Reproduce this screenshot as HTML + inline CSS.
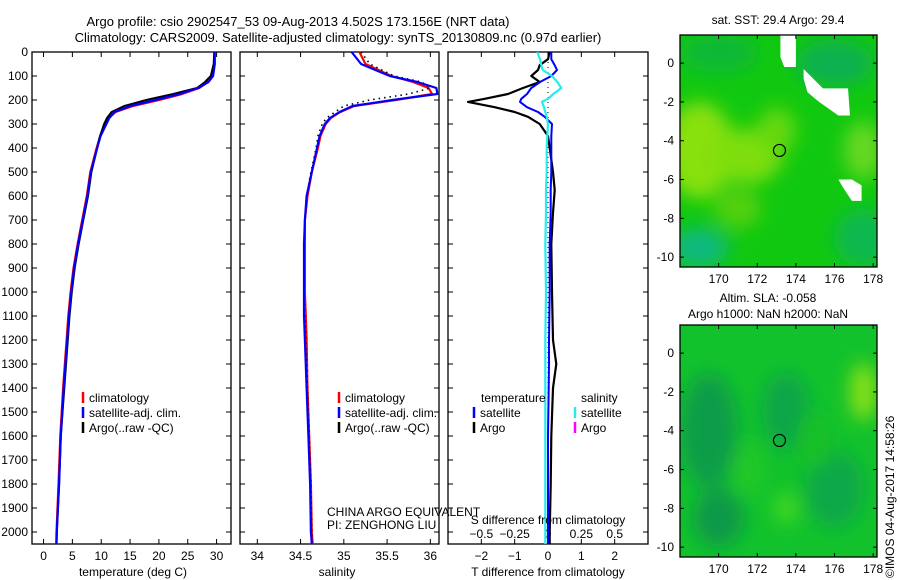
<!DOCTYPE html>
<html><head><meta charset="utf-8"><style>
body{margin:0;background:#fff;}
svg{display:block;font-family:"Liberation Sans",sans-serif;}
</style></head><body>
<svg id="c" width="900" height="580" viewBox="0 0 900 580">
<defs>
<filter id="bl" x="-50%" y="-50%" width="200%" height="200%"><feGaussianBlur stdDeviation="9"/></filter>
<clipPath id="m1c"><rect x="680" y="35" width="197" height="232"/></clipPath>
<clipPath id="m2c"><rect x="680" y="325" width="197" height="232"/></clipPath>
</defs>
<text x="298" y="26" font-size="13" text-anchor="middle">Argo profile: csio 2902547_53 09-Aug-2013 4.502S 173.156E (NRT data)</text>
<text x="338" y="42" font-size="13" text-anchor="middle">Climatology: CARS2009. Satellite-adjusted climatology: synTS_20130809.nc (0.97d earlier)</text>
<g id="maps"></g>
<g id="plots"></g>
<text transform="translate(894,578) rotate(-90)" font-size="12">©IMOS 04-Aug-2017 14:58:26</text>
</svg>
<script>
// ---- data ----
const depths = [0,50,100,125,150,175,200,225,250,275,300,350,400,500,600,700,800,900,1000,1100,1200,1400,1600,1800,2000,2050];
const tempClim = [29.6,29.6,29.3,28.5,27,24,20,15.5,12.5,11.3,10.7,9.8,9.2,8.1,7.5,6.7,5.9,5.2,4.7,4.3,4.0,3.4,2.9,2.6,2.25,2.2];
const tempSat  = [29.7,29.7,29.4,28.6,26.8,23.6,19.4,15.0,12.3,11.4,10.9,9.9,9.3,8.2,7.6,6.8,6.0,5.3,4.8,4.4,4.1,3.5,3.0,2.7,2.3,2.25];
const tempArgo = [29.6,29.5,29.0,28.0,26.6,22.5,17.8,14.0,11.8,11.0,10.5,9.8,9.3,8.3,7.7,6.9,6.1,5.4,4.9,4.5,4.2,3.6,3.0,2.7,2.3,2.25];
const salClim  = [35.18,35.25,35.55,35.8,35.98,36.02,35.6,35.12,34.96,34.85,34.79,34.73,34.70,34.63,34.58,34.55,34.55,34.55,34.55,34.56,34.57,34.58,34.60,34.62,34.63,34.64];
const salSat   = [35.09,35.2,35.53,35.85,36.07,36.08,35.56,35.1,34.95,34.84,34.78,34.72,34.69,34.63,34.57,34.55,34.54,34.54,34.54,34.54,34.55,34.57,34.59,34.61,34.62,34.63];
const salArgo  = [35.2,35.3,35.58,35.9,36.0,35.75,35.3,35.0,34.9,34.8,34.75,34.7,34.68,34.62,34.57,34.55,34.54,34.54,34.54,34.55,34.56,34.58,34.60,34.62,34.63,34.63];
const diffDepths = [0,30,55,75,100,125,150,175,195,208,230,250,270,300,350,400,500,575,670,800,1000,1200,1300,1400,1600,1800,2000,2050];
const tDiffArgo = [0.05,0.0,-0.25,-0.3,-0.5,-0.25,-0.75,-1.2,-1.9,-2.4,-1.6,-1.0,-0.6,-0.25,0.0,0.05,0.15,0.2,0.15,0.1,0.12,0.15,0.25,0.15,0.1,0.08,0.05,0.05];
const tDiffSat  = [0.1,0.1,0.2,0.27,0.1,-0.24,-0.5,-0.63,-0.8,-0.84,-0.63,-0.3,-0.1,0.12,0.1,0.1,0.1,0.08,0.08,0.05,0.05,0.03,0.03,0.02,0.0,0.0,0.0,0.0];
const sDiffSat  = [-0.08,-0.06,-0.05,-0.04,0.03,0.07,0.1,0.04,0.0,-0.045,-0.03,-0.02,-0.01,0.0,-0.005,-0.01,-0.01,-0.015,-0.015,-0.02,-0.015,-0.02,-0.02,-0.02,-0.02,-0.02,-0.02,-0.02];
const depthTicks = [0,100,200,300,400,500,600,700,800,900,1000,1100,1200,1300,1400,1500,1600,1700,1800,1900,2000];
const tempTicks = [0,5,10,15,20,25,30];
const salTicks = [34,34.5,35,35.5,36];
const tDiffTicks = [-2,-1,0,1,2];
const sDiffTicks = [-0.5,-0.25,0,0.25,0.5];
const lonTicks = [170,172,174,176,178];
const latTicks = [0,-2,-4,-6,-8,-10];
const argoPos = [173.15,-4.5];

const NS='http://www.w3.org/2000/svg';
const plots=document.getElementById('plots'), maps=document.getElementById('maps');
function mk(tag,attrs,parent){const e=document.createElementNS(NS,tag);for(const k in attrs)e.setAttribute(k,attrs[k]);(parent||plots).appendChild(e);return e;}
const Y0=52,Y1=544;
const yD=d=>Y0+(d/2050)*(Y1-Y0);
function lin(d0,d1,r0,r1){return v=>r0+(v-d0)/(d1-d0)*(r1-r0);}
const xT=lin(-2,32.5,32,231), xS=lin(33.8,36.1,240,439), xTD=lin(-3,3,448,648), xSD=lin(-0.75,0.75,448,648);

function axesBox(x0,x1,name){
  const r=mk('rect',{x:x0,y:Y0,width:x1-x0,height:Y1-Y0,fill:'none',stroke:'#000','stroke-width':1.3});
  
  
}
function yTicks(x0,x1,labels){
  depthTicks.forEach(d=>{const y=yD(d);
    mk('line',{x1:x0,y1:y,x2:x0+5,y2:y,stroke:'#000'});
    mk('line',{x1:x1,y1:y,x2:x1-5,y2:y,stroke:'#000'});
    if(labels){const t=mk('text',{x:x0-4,y:y+4,'font-size':12,'text-anchor':'end'});t.textContent=d;
      
      }
  });
}
function xTicks(ticks,sc,yLab,top){
  ticks.forEach(v=>{const x=sc(v);
    mk('line',{x1:x,y1:Y1,x2:x,y2:Y1-5,stroke:'#000'});
    if(top)mk('line',{x1:x,y1:Y0,x2:x,y2:Y0+5,stroke:'#000'});
    const t=mk('text',{x:x,y:yLab,'font-size':12,'text-anchor':'middle'});t.textContent=(v<0?'\u2212'+(-v):v);
    
    
  });
}
function line(xs,ds,sc,color,w,name,dash){
  const p=xs.map((v,i)=>(i?'L':'M')+sc(v).toFixed(1)+','+yD(ds[i]).toFixed(1)).join('');
  const e=mk('path',{d:p,fill:'none',stroke:color,'stroke-width':w,'stroke-linejoin':'round'});
  if(dash)e.setAttribute('stroke-dasharray',dash);
  
  
}
function label(x,y,txt,name,anchor){const t=mk('text',{x:x,y:y,'font-size':12,'text-anchor':anchor||'middle'});t.textContent=txt;
  
  return t;}
function legend(x,y,items){items.forEach((it,i)=>{const yy=y+i*15;
  mk('line',{x1:x,y1:yy-10,x2:x,y2:yy+1,stroke:it[1],'stroke-width':2.5});
  label(x+6,yy,it[0],'legend-entry','start');});}

// panel 1 temperature
axesBox(32,231,'temperature-axes');yTicks(32,231,true);xTicks(tempTicks,xT,560,true);
line(tempClim,depths,xT,'#f00',2.2,'temperature-climatology-line');
line(tempArgo,depths,xT,'#000',2,'temperature-argo-line');
line(tempSat,depths,xT,'#00f',2.2,'temperature-satellite-line');
label(133,576,'temperature (deg C)','temperature-axis-title');
legend(83,402,[['climatology','#f00'],['satellite-adj. clim.','#00f'],['Argo(..raw -QC)','#000']]);

// panel 2 salinity
axesBox(240,439,'salinity-axes');yTicks(240,439,false);xTicks(salTicks,xS,560,true);
line(salClim,depths,xS,'#f00',2.2,'salinity-climatology-line');
line(salArgo,depths,xS,'#000',1.6,'salinity-argo-line','1.5,4');
line(salSat,depths,xS,'#00f',2.2,'salinity-satellite-line');
label(337,576,'salinity','salinity-axis-title');
legend(339,402,[['climatology','#f00'],['satellite-adj. clim.','#00f'],['Argo(..raw -QC)','#000']]);
label(327,516,'CHINA ARGO EQUIVALENT','float-owner','start');
label(327,529,'PI: ZENGHONG LIU','float-pi','start');

// panel 3 differences
axesBox(448,648,'difference-axes');yTicks(448,648,false);
xTicks(tDiffTicks,xTD,560,true);
sDiffTicks.forEach(v=>{const t=mk('text',{x:xSD(v),y:538,'font-size':12,'text-anchor':'middle'});t.textContent=(v<0?'\u2212'+(-v):v);
  
  });
mk('line',{x1:xTD(0),y1:Y0,x2:xTD(0),y2:Y1,stroke:'#000','stroke-dasharray':'1,4'});
line(tDiffArgo,diffDepths,xTD,'#000',2.2,'t-diff-argo-line');
line(tDiffSat,diffDepths,xTD,'#00f',2,'t-diff-satellite-line');
line(sDiffSat,diffDepths,xSD,'#2ee',2.2,'s-diff-satellite-line');
label(548,576,'T difference from climatology','t-diff-axis-title');
label(548,524,'S difference from climatology','s-diff-axis-title');
label(481,402,'temperature','legend-heading-temperature','start');
label(581,402,'salinity','legend-heading-salinity','start');
legend(474,417,[['satellite','#00f'],['Argo','#000']]);
legend(575,417,[['satellite','#2ee'],['Argo','#f0f']]);

// maps
const xL=lin(168,178.2,680,877);
function mapAxes(y0,y1,latTop,title,name,blobs,colorBase,gaps){
  const yL=lin(latTop,latTop-(y1-y0)/19.4,y0,y1);
  const g=mk('g',{'clip-path':'url(#'+(name==='sst-map'?'m1c':'m2c')+')'},maps);
  
  
  mk('rect',{x:680,y:y0,width:197,height:y1-y0,fill:colorBase},g);
  const bg=mk('g',{filter:'url(#bl)'},g);
  blobs.forEach(b=>mk('ellipse',{cx:xL(b[0]),cy:yL(b[1]),rx:b[2]*19.4,ry:b[3]*19.4,fill:b[4]},bg));
  gaps.forEach(pg=>mk('polygon',{points:pg.map(p=>xL(p[0])+','+yL(p[1])).join(' '),fill:'#fff'},g));
  mk('circle',{cx:xL(argoPos[0]),cy:yL(argoPos[1]),r:6,fill:'none',stroke:'#000','stroke-width':1.2},maps);
  mk('rect',{x:680,y:y0,width:197,height:y1-y0,fill:'none',stroke:'#000','stroke-width':1.3},maps);
  lonTicks.forEach(v=>{const x=xL(v);mk('line',{x1:x,y1:y1,x2:x,y2:y1-4,stroke:'#000'},maps);mk('line',{x1:x,y1:y0,x2:x,y2:y0+4,stroke:'#000'},maps);
    const t=mk('text',{x:x,y:y1+16,'font-size':12,'text-anchor':'middle'},maps);t.textContent=v;
    
    });
  latTicks.forEach(v=>{const y=yL(v);mk('line',{x1:680,y1:y,x2:684,y2:y,stroke:'#000'},maps);mk('line',{x1:877,y1:y,x2:873,y2:y,stroke:'#000'},maps);
    const t=mk('text',{x:674,y:y+4,'font-size':12,'text-anchor':'end'},maps);t.textContent=(v<0?'-'+(-v):v);
    
    });
}
mapAxes(35,267,1.45,'','sst-map',[
 [169,-4.5,1.8,2.5,'#88e010'],[171.5,-4.8,1.8,1.4,'#7ede10'],[173,-3.5,1,1.2,'#66d810'],[169,-9.5,1.5,1,'#10b880'],
 [177.5,-4.5,1,1.5,'#66d820'],[176,0,2,1.2,'#10b050'],[170,0.5,2,1,'#10b838'],[177.5,-9,1.5,1.5,'#10b850'],[171,-7.5,1.2,1,'#55d010']
],'#11c810',[
 [[173.2,1.45],[174,1.45],[174,-0.2],[173.4,-0.2],[173.2,0.3]],
 [[174.4,-0.3],[175.4,-1.3],[176.7,-1.3],[176.8,-2.7],[176.2,-2.7],[175.2,-2],[174.6,-1.5],[174.4,-0.8]],
 [[176.2,-6],[176.9,-6],[177.4,-6.3],[177.4,-7.1],[176.9,-7.1],[176.5,-6.5]]
]);
label(778,24,'sat. SST: 29.4  Argo: 29.4','sst-map-title');
mapAxes(325,557,1.45,'','sla-map',[
 [169.5,-4,1.5,3,'#109d4a'],[170,-8.5,1.3,1.5,'#10994a'],[173.5,-3,1.2,2,'#10a548'],[177.5,-2,0.7,1.5,'#88e018'],
 [176,-7,1.5,2,'#10a848'],[173.5,-8,0.6,0.8,'#44d820'],[171.5,-6,0.8,1.5,'#22c828'],[175,-4.5,1,1.5,'#18c028']
],'#12c22c',[]);
label(768,302,'Altim. SLA: -0.058','sla-map-title');
label(768,318,'Argo h1000: NaN h2000: NaN','sla-map-subtitle');
</script>
</body></html>
